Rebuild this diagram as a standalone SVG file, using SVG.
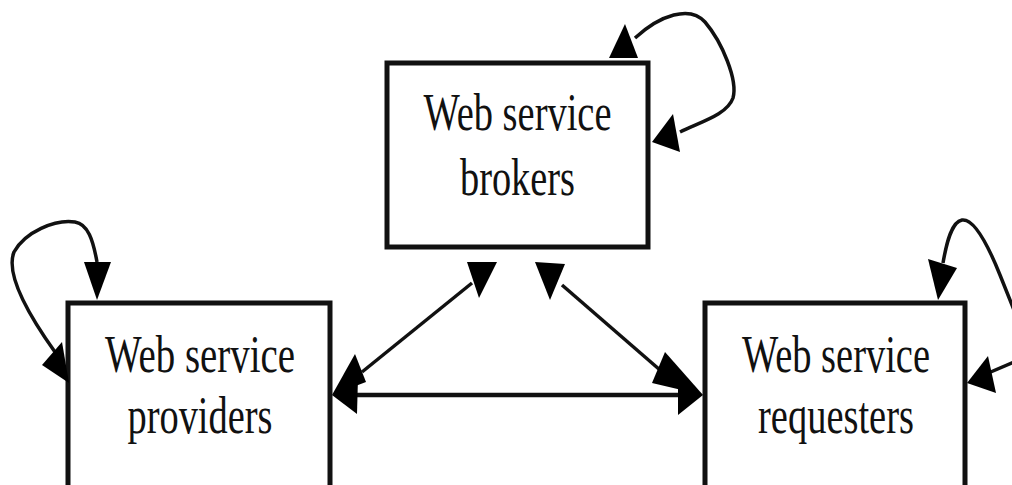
<svg xmlns="http://www.w3.org/2000/svg" width="1012" height="485" viewBox="0 0 1012 485">
<style>
.box{fill:#fff;stroke:#111;stroke-width:5}
.lbl{font-family:"Liberation Serif","Times New Roman",serif;font-size:53px;fill:#111;text-anchor:middle}
.ln{fill:none;stroke:#111;stroke-width:3.5}
.hd{fill:#000;stroke:none}
</style>
<rect width="1012" height="485" fill="#fff"/>
<g id="brokers">
<rect class="box" x="387" y="63" width="261" height="184"/>
<text class="lbl" x="517.5" y="130" textLength="188" lengthAdjust="spacingAndGlyphs">Web service</text>
<text class="lbl" x="517.5" y="195" textLength="115" lengthAdjust="spacingAndGlyphs">brokers</text>
</g>
<g id="providers">
<rect class="box" x="68" y="303" width="262" height="195"/>
<text class="lbl" x="200" y="372" textLength="190" lengthAdjust="spacingAndGlyphs">Web service</text>
<text class="lbl" x="200" y="433" textLength="145" lengthAdjust="spacingAndGlyphs">providers</text>
</g>
<g id="requesters">
<rect class="box" x="705" y="303" width="260" height="195"/>
<text class="lbl" x="836" y="372" textLength="188" lengthAdjust="spacingAndGlyphs">Web service</text>
<text class="lbl" x="836" y="433" textLength="156" lengthAdjust="spacingAndGlyphs">requesters</text>
</g>
<g id="connectors">
<path class="ln" d="M635,38 C660,15 690,5 705,22 C722,42 738,80 733,98 C727,115 700,122 680,132"/>
<polygon class="hd" points="625,24 609,58 638,58"/>
<polygon class="hd" points="673,114 652,142 680,152"/>
<path class="ln" d="M97,262 C93,240 88,224 75,222 C55,219 25,232 14,252 C6,272 25,310 55,352"/>
<polygon class="hd" points="84,262 111,262 97,300"/>
<polygon class="hd" points="62,342 42,365 69,383"/>
<path class="ln" d="M943,263 C947,240 952,222 962,220 C975,218 990,250 1000,275 L1014,310"/>
<polygon class="hd" points="928,259 957,268 938,300"/>
<path class="ln" d="M1014,362 L986,374"/>
<polygon class="hd" points="988,356 967,383 996,393"/>
<path class="ln" d="M472,283 L362,372"/>
<polygon class="hd" points="467,262 497,262 479,298"/>
<polygon class="hd" points="332,395 355,354 366,382"/>
<path class="ln" d="M562,285 L660,370"/>
<polygon class="hd" points="535,262 565,264 550,300"/>
<polygon class="hd" points="703,395 665,352 652,383"/>
<path d="M350,395 L685,395" fill="none" stroke="#111" stroke-width="4.5"/>
<polygon class="hd" points="332,395 358,377 357,414"/>
<polygon class="hd" points="703,395 678,377 678,415"/>
</g>
</svg>
